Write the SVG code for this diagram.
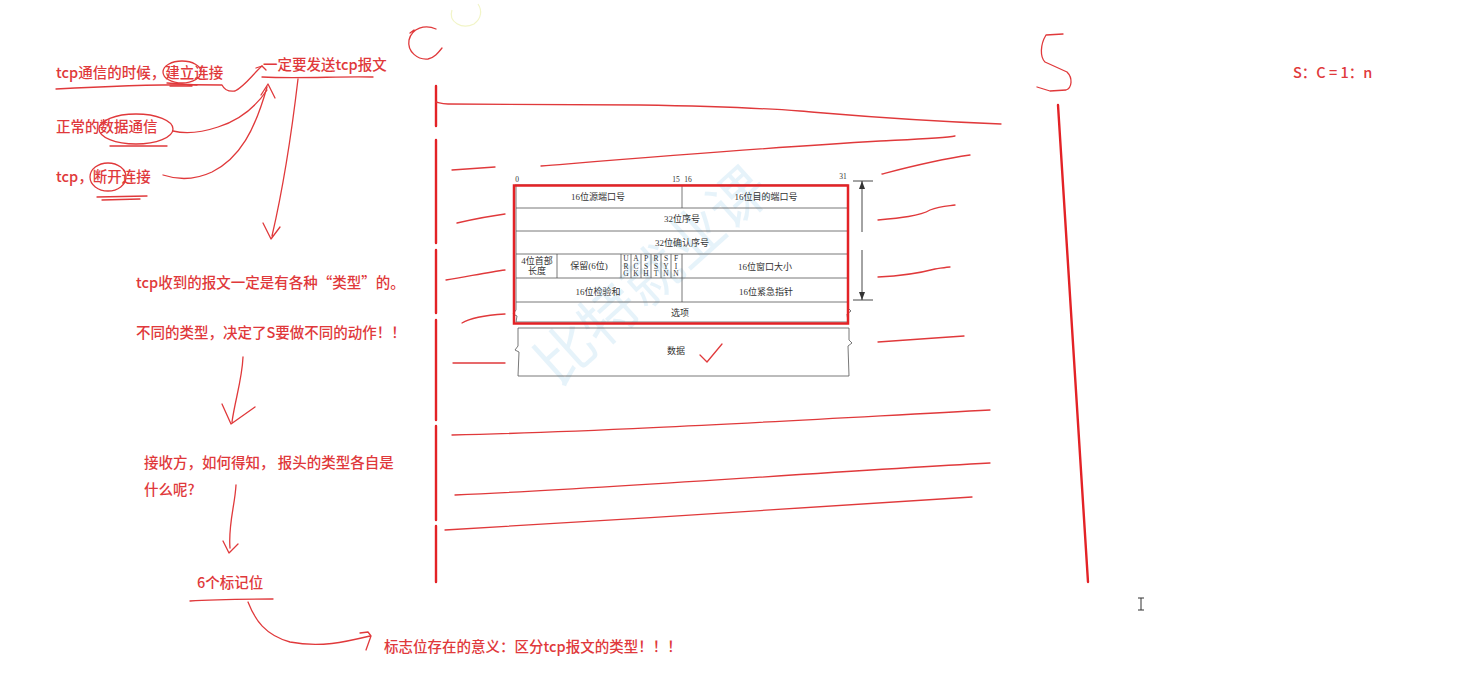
<svg xmlns="http://www.w3.org/2000/svg" width="1474" height="684" viewBox="0 0 1474 684">
<style>
.ink{fill:none;stroke:#e0393b;stroke-width:1.3;stroke-linecap:round;stroke-linejoin:round}
.bold{fill:none;stroke:#e32226;stroke-width:2.4;stroke-linecap:round}
.note{font-family:"Noto Sans CJK SC","Noto Sans",sans-serif;font-size:14.5px;font-weight:500;fill:#e0393b}
.tbl{fill:none;stroke:#555;stroke-width:0.8}
.tt{font-family:"Liberation Serif","Noto Sans CJK SC",serif;font-size:9px;fill:#333;text-anchor:middle}
.fl{font-family:"Liberation Serif",serif;font-size:7.5px;fill:#333;text-anchor:middle}
.wm{font-family:"Noto Sans CJK SC",sans-serif;font-size:58px;fill:#9fd0ee;opacity:0.25}
</style>
<rect width="1474" height="684" fill="#ffffff"/>

<!-- watermark -->
<text class="wm" transform="translate(558,388) rotate(-42)">比特就业课</text>
<path d="M452,10 C448,22 462,30 474,24 C482,18 482,10 478,4" fill="none" stroke="#f2f5c8" stroke-width="1.2"/>

<!-- C and S lifelines -->
<g id="client">
  <path class="ink" d="M410,33 L414,30 M436,29 C425,24 412,28 409,40 C407,52 418,60 428,59 C434,58 438,53 442,48"/>
  <path class="bold" d="M436,86 L436,126 M436,140 L436,243 M436,250 L436,313 M436,320 L436,420 M436,426 L436,520 M436,526 L436,582"/>
</g>
<g id="server">
  <path class="ink" d="M1063,34 L1046,35 C1040,45 1040,57 1045,62 L1067,72 C1073,78 1072,88 1066,90 L1050,91 L1037,87"/>
  <path class="bold" d="M1058,105 L1088,582"/>
</g>

<!-- message lines -->
<g id="connectors">
  <path class="ink" d="M436,102 C440,103 442,104 448,104 L640,105 C700,106 760,108 800,111 C860,116 900,120 1001,124"/>
  <path class="ink" d="M452,170 C465,169 480,168 495,167"/>
  <path class="ink" d="M541,166 C640,158 760,148 880,141 C920,139 945,138 955,136"/>
  <path class="ink" d="M882,174 C905,168 935,160 970,155"/>
  <path class="ink" d="M457,223 C470,220 490,216 505,214"/>
  <path class="ink" d="M878,220 C900,218 920,216 930,210 C940,206 948,206 955,205"/>
  <path class="ink" d="M446,280 C470,276 490,272 505,270"/>
  <path class="ink" d="M878,277 C900,276 920,273 935,269 C942,268 948,267 950,267"/>
  <path class="ink" d="M462,323 C470,318 490,315 505,314"/>
  <path class="ink" d="M878,342 C905,340 935,338 964,336"/>
  <path class="ink" d="M453,363 L505,363"/>
  <path class="ink" d="M452,435 C600,432 800,420 990,410"/>
  <path class="ink" d="M455,495 C620,488 820,472 990,463"/>
  <path class="ink" d="M445,530 C620,520 800,508 972,497"/>
</g>

<!-- TCP header table -->
<g id="tcp-header">
  <text class="fl" x="517" y="182">0</text>
  <text class="fl" x="676" y="182">15</text>
  <text class="fl" x="688" y="182">16</text>
  <text class="fl" x="843" y="179">31</text>
  <path class="tbl" d="M515,185 L848,185"/>
  <path class="tbl" d="M516,186 L516,303 M848,186 L848,303"/>
  <path class="tbl" d="M516,208 L848,208 M516,231 L848,231 M516,254 L848,254 M516,278 L848,278 M516,302 L848,302 M516,322 L848,322"/>
  <path class="tbl" d="M682,186 L682,208 M682,254 L682,302 M557,254 L557,278 M621,254 L621,278 M631,254 L631,278 M641,254 L641,278 M651,254 L651,278 M661,254 L661,278 M671,254 L671,278"/>
  <path class="tbl" d="M516,303 L516,310 L513,314 L517,316 L516,322 M848,303 L848,308 L851,311 L847,314 L848,322"/>
  <text class="tt" x="598" y="200">16位源端口号</text>
  <text class="tt" x="766" y="200">16位目的端口号</text>
  <text class="tt" x="682" y="222">32位序号</text>
  <text class="tt" x="682" y="246">32位确认序号</text>
  <text class="tt" x="537" y="264">4位首部</text>
  <text class="tt" x="537" y="274">长度</text>
  <text class="tt" x="589" y="269">保留(6位)</text>
  <g class="fl">
    <text x="626" y="261">U</text><text x="626" y="268.5">R</text><text x="626" y="276">G</text>
    <text x="636" y="261">A</text><text x="636" y="268.5">C</text><text x="636" y="276">K</text>
    <text x="646" y="261">P</text><text x="646" y="268.5">S</text><text x="646" y="276">H</text>
    <text x="656" y="261">R</text><text x="656" y="268.5">S</text><text x="656" y="276">T</text>
    <text x="666" y="261">S</text><text x="666" y="268.5">Y</text><text x="666" y="276">N</text>
    <text x="676" y="261">F</text><text x="676" y="268.5">I</text><text x="676" y="276">N</text>
  </g>
  <text class="tt" x="765" y="270">16位窗口大小</text>
  <text class="tt" x="598" y="295">16位检验和</text>
  <text class="tt" x="766" y="295">16位紧急指针</text>
  <text class="tt" x="680" y="316">选项</text>
  <rect x="514" y="185.5" width="334" height="138" fill="none" stroke="#e32226" stroke-width="2.5"/>
  <path class="tbl" d="M518,328 L849,328 M518,376 L849,376 M518,328 L518,346 L515,350 L519,352 L518,376 M849,328 L849,340 L852,343 L848,346 L849,376"/>
  <text class="tt" x="676" y="354">数据</text>
  <path class="ink" d="M700,355 L707,362 L722,344"/>
  <path fill="none" stroke="#333" stroke-width="0.9" d="M853,181 L873,181 M862,181 L862,232 M862,250 L862,300 M853,300 L873,300"/>
  <path fill="#333" d="M862,181 L859,189 L865,189 Z M862,300 L859,292 L865,292 Z"/>
</g>

<!-- left notes -->
<g id="note-connect">
  <text class="note" x="56" y="78">tcp通信的时候，建立连接</text>
  <path class="ink" d="M56,89 C110,86 170,84 222,85 C224,89 228,92 235,91 C245,86 252,75 262,66"/>
  <ellipse class="ink" cx="182" cy="72" rx="19" ry="11"/>
  <path class="ink" d="M167,83 L197,85 M170,86 L192,86"/>
</g>
<g id="note-send">
  <text class="note" x="263" y="70">一定要发送tcp报文</text>
  <path class="ink" d="M262,77 C300,79 340,76 373,77"/>
  <path class="ink" d="M298,79 C292,130 285,180 272,236 M263,223 L271,239 L280,227"/>
  <path class="ink" d="M256,68 L262,66 L266,70"/>
</g>
<g id="note-data">
  <text class="note" x="56" y="132">正常的数据通信</text>
  <ellipse class="ink" cx="136" cy="129" rx="37" ry="15"/>
  <path class="ink" d="M110,146 L167,146"/>
  <path class="ink" d="M173,131 C185,134 200,133 218,127 C240,120 255,108 267,90 M261,95 L268,84 L275,98"/>
</g>
<g id="note-disconnect">
  <text class="note" x="56" y="182">tcp，断开连接</text>
  <ellipse class="ink" cx="108" cy="177" rx="18" ry="14"/>
  <path class="ink" d="M97,197 L147,196 M102,200 L140,199"/>
  <path class="ink" d="M163,175 C178,180 195,180 212,172 C240,158 255,130 267,87"/>
</g>
<g id="note-type">
  <text class="note" x="136" y="288">tcp收到的报文一定是有各种“类型”的。</text>
  <text class="note" x="136" y="338">不同的类型，决定了S要做不同的动作！！</text>
  <path class="ink" d="M243,357 C242,380 235,400 232,422 M222,404 L231,424 L255,407"/>
</g>
<g id="note-question">
  <text class="note" x="144" y="468">接收方，如何得知， 报头的类型各自是</text>
  <text class="note" x="144" y="495">什么呢?</text>
  <path class="ink" d="M236,485 C235,505 228,525 230,548 M223,541 L229,553 L238,544"/>
</g>
<g id="note-flags">
  <text class="note" x="197" y="588">6个标记位</text>
  <path class="ink" d="M190,601 C215,599 245,599 273,599"/>
  <path class="ink" d="M248,602 C255,620 265,635 290,642 C320,648 345,642 370,636 M360,633 L368,632 L371,636 L366,650"/>
  <text class="note" x="384" y="652">标志位存在的意义：区分tcp报文的类型！！！</text>
</g>
<g id="ratio">
  <text class="note" x="1293" y="78">S：C = 1：n</text>
</g>
<path fill="none" stroke="#333" stroke-width="1" d="M1138,598 L1144,598 M1141,598 L1141,610 M1138,610 L1144,610"/>
</svg>
